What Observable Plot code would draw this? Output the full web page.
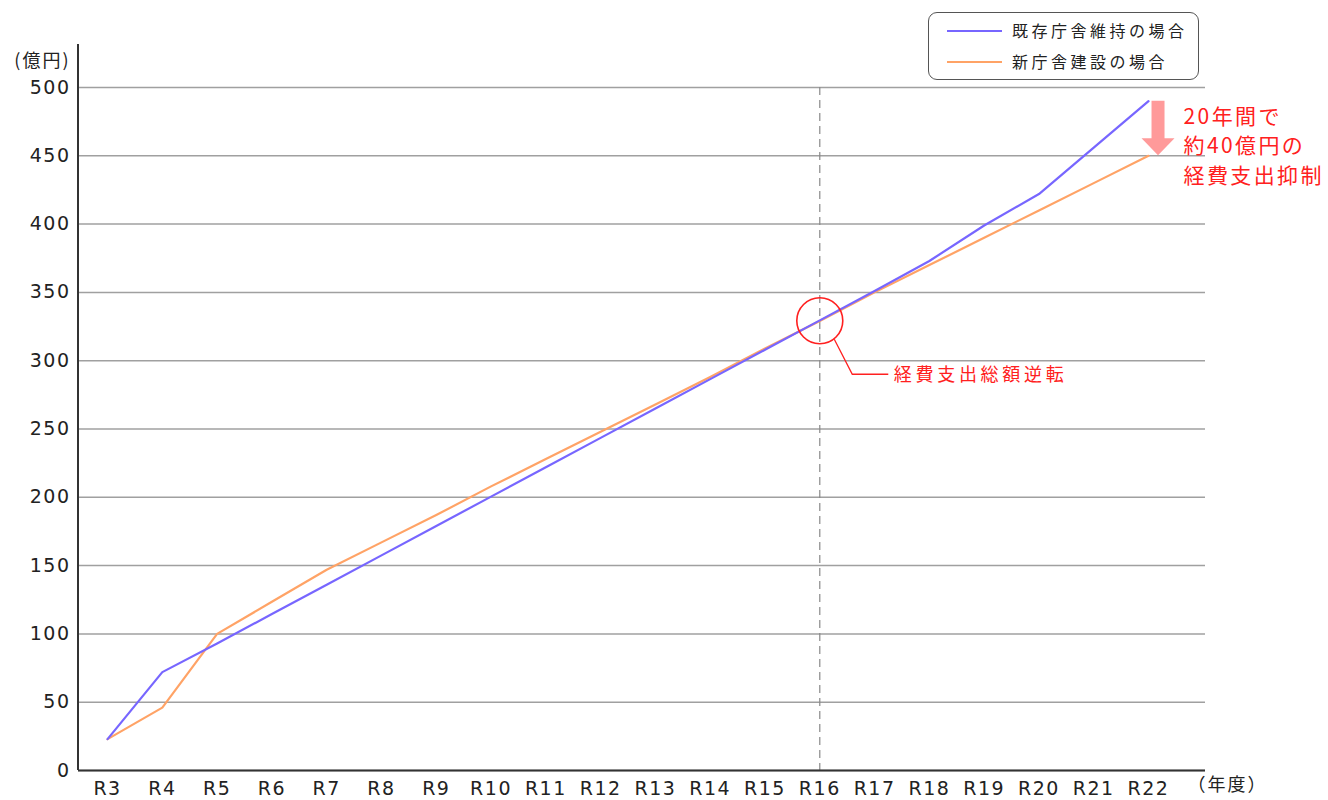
<!DOCTYPE html>
<html><head><meta charset="utf-8">
<script src="https://cdn.jsdelivr.net/npm/d3@7"></script>
<script src="https://cdn.jsdelivr.net/npm/@observablehq/plot@0.6"></script>
<style>
body{margin:0;background:#fff;}
#wrap{position:relative;width:1328px;height:800px;}
#legend{position:absolute;left:928px;top:12px;width:271px;height:68px;border:1.5px solid #555;border-radius:9px;box-sizing:border-box;font-family:"Noto Sans CJK JP";font-size:16px;letter-spacing:3.5px;color:#222;}
.sw{position:absolute;left:18px;width:55px;height:2.5px;}
.lb{position:absolute;left:83px;line-height:24px;white-space:nowrap;}
</style></head><body>
<div id="wrap"><div id="chart"></div>
<div id="legend">
 <div class="sw" style="top:16.5px;background:#7766ff"></div><span class="lb" style="top:5px">既存庁舎維持の場合</span>
 <div class="sw" style="top:47.5px;background:#ffa366"></div><span class="lb" style="top:36px">新庁舎建設の場合</span>
</div></div>
<script>
const years = ["R3","R4","R5","R6","R7","R8","R9","R10","R11","R12","R13","R14","R15","R16","R17","R18","R19","R20","R21","R22"];
const existingCost = [23, 72, 93, 114.5, 136, 157.5, 179, 200.5, 222, 243.5, 265, 286.5, 308, 329.5, 351, 373, 399, 422, 456, 490];
const newCost = [23, 46, 100, 123.5, 147, 167, 187, 208, 228, 248, 268, 288, 309, 329, 350, 370, 390, 410, 430, 450];
const yTicks = d3.range(0, 501, 50);
const blue = "#7766ff", orange = "#ffa366", red = "#ff2020";
const crossIdx = years.indexOf("R16");
const lastIdx = years.length - 1;
const idx = years.map((_, i) => i);
const note1 = "経費支出総額逆転";
const note2 = "20年間で\n約40億円の\n経費支出抑制";

const plot = Plot.plot({
  width: 1328, height: 800,
  marginLeft: 78, marginRight: 123, marginTop: 87, marginBottom: 30,
  style: {fontFamily: "DejaVu Sans, 'Noto Sans CJK JP'", fontSize: "19px", color: "#222", background: "#fff"},
  x: {type: "linear", domain: [-0.53, 20.04], axis: null},
  y: {domain: [0, 500], axis: null},
  marks: [
    Plot.gridY(yTicks, {stroke: "#a0a0a0", strokeOpacity: 1, strokeWidth: 1.5}),
    Plot.ruleX([crossIdx], {stroke: "#888", strokeDasharray: "8,5", strokeWidth: 1.2}),
    Plot.axisY(yTicks, {tickSize: 0, tickPadding: 8, fontSize: 19, fill: "#222"}),
    Plot.axisX(idx, {tickSize: 0, tickPadding: 11, fontSize: 19, tickFormat: i => years[i], fill: "#222"}),
    Plot.ruleY([0], {stroke: "#333", strokeWidth: 2}),
    // y axis line (extends above the frame)
    Plot.dot([0], {x: () => -0.53, y: () => 0, render: (I, s, v, d) =>
      d3.create("svg:line").attr("x1", d.marginLeft).attr("x2", d.marginLeft)
        .attr("y1", d.marginTop - 43).attr("y2", d.height - d.marginBottom)
        .attr("stroke", "#333").attr("stroke-width", 2).node()}),
    Plot.line(newCost, {x: (d, i) => i, y: d => d, stroke: orange, strokeWidth: 2.2}),
    Plot.line(existingCost, {x: (d, i) => i, y: d => d, stroke: blue, strokeWidth: 2.2}),
    // reversal circle
    Plot.dot([crossIdx], {x: d => d, y: d => (existingCost[d] + newCost[d]) / 2, r: 23, stroke: red, strokeWidth: 1.6, fill: "none"}),
    Plot.dot([crossIdx], {x: d => d, y: d => (existingCost[d] + newCost[d]) / 2, render: (I, s) => {
      const cx = s.x(crossIdx), cy = s.y((existingCost[crossIdx] + newCost[crossIdx]) / 2);
      return d3.create("svg:path").attr("d", `M${cx+15},${cy+19}L${cx+33},${cy+54}L${cx+69},${cy+54}`)
        .attr("fill", "none").attr("stroke", red).attr("stroke-width", 1.3).node();
    }}),
    Plot.text([crossIdx], {x: d => d, y: d => (existingCost[d] + newCost[d]) / 2, text: () => note1,
      dx: 74, dy: 54, textAnchor: "start", fill: red, fontSize: 18, fontFamily: "Noto Sans CJK JP"}),
    // savings arrow
    Plot.dot([lastIdx], {x: d => d, y: d => existingCost[d], render: (I, s) => {
      const x = s.x(lastIdx) + 10, y1 = s.y(existingCost[lastIdx]), y2 = s.y(newCost[lastIdx]);
      const hh = 17, sw = 6.5, hw = 16.5;
      return d3.create("svg:path")
        .attr("d", `M${x-sw},${y1}L${x+sw},${y1}L${x+sw},${y2-hh}L${x+hw},${y2-hh}L${x},${y2}L${x-hw},${y2-hh}L${x-sw},${y2-hh}Z`)
        .attr("fill", "#ff9a9a").node();
    }}),
    Plot.text([lastIdx], {x: d => d, y: d => existingCost[d], text: () => note2,
      dx: 35, dy: 2, textAnchor: "start", lineAnchor: "top", lineHeight: 1.4, fill: red, fontSize: 21,
      fontFamily: "Noto Sans CJK JP"}),
    // axis titles
    Plot.text(["(億円)"], {frameAnchor: "top-left", dx: -8, dy: -33, textAnchor: "end", fontSize: 18,
      fontFamily: "Noto Sans CJK JP", fill: "#222"}),
    Plot.text(["（年度）"], {frameAnchor: "bottom-right", dx: -18, dy: 20, textAnchor: "start", fontSize: 18,
      fontFamily: "Noto Sans CJK JP", fill: "#222"})
  ]
});
document.getElementById("chart").appendChild(plot);
const sel = d3.select(plot);
sel.selectAll("text").each(function() {
  const t = this.textContent;
  let ls = "1.5px";
  if (t === note1) ls = "3.7px";
  else if (t.includes("年間") || t.includes("億円の") || t.includes("抑制")) ls = "2.4px";
  else if (t === "(億円)") ls = "2px";
  else if (t === "（年度）") ls = "2px";
  this.style.letterSpacing = ls;
  this.querySelectorAll("tspan").forEach(ts => ts.style.letterSpacing = ls);
});
</script></body></html>
